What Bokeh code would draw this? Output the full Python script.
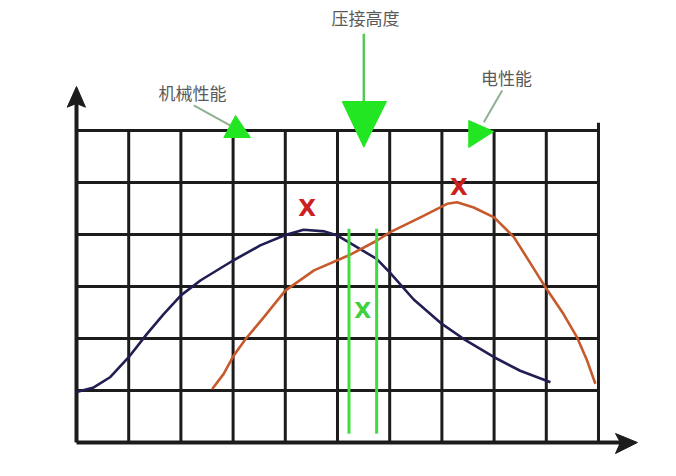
from bokeh.plotting import figure
from bokeh.models import Range1d
from bokeh.core.properties import value
from bokeh.embed import file_html
from bokeh.resources import INLINE

# ---------------- data ----------------
grid_cols = list(range(0, 11))   # vertical grid lines (x units)
grid_rows = list(range(1, 7))    # horizontal grid lines (y units)

mech_x = [0, 0.33, 0.65, 1.0, 1.35, 1.67, 2.0, 2.38, 3.0, 3.52, 4.0, 4.35, 4.75,
          5.0, 5.22, 5.75, 6.0, 6.46, 7.0, 7.42, 8.0, 8.5, 9.08]
mech_y = [0.97, 1.06, 1.26, 1.64, 2.09, 2.47, 2.83, 3.12, 3.5, 3.79, 3.99, 4.09, 4.06,
          3.98, 3.85, 3.53, 3.27, 2.75, 2.28, 1.99, 1.64, 1.38, 1.16]

elec_x = [2.6, 2.82, 3.01, 3.24, 3.59, 4.0, 4.55, 5.22, 5.75, 6.02, 6.59, 7.1, 7.29,
          7.61, 8.0, 8.38, 8.7, 9.0, 9.33, 9.59, 9.78, 9.94]
elec_y = [1.03, 1.32, 1.67, 1.99, 2.41, 2.92, 3.31, 3.6, 3.88, 4.05, 4.33, 4.59, 4.62,
          4.52, 4.33, 3.95, 3.44, 2.96, 2.47, 2.02, 1.58, 1.13]

window_x = [5.22, 5.75]          # crimp height window (green lines)
window_y = [0.17, 4.11]

labels = ["机械性能", "压接高度", "电性能"]
peak_marks = ["X", "X"]

# ---------------- figure ----------------
p = figure(width=660, height=460, output_backend="svg", toolbar_location=None,
           x_range=Range1d(-1.456, 11.188), y_range=Range1d(-0.346, 8.5),
           x_axis_type=None, y_axis_type=None, min_border=0)
p.outline_line_color = None
p.grid.visible = False
p.background_fill_color = "white"
p.border_fill_color = "white"

GRID = "#1c1c1c"
top_row = max(grid_rows)
right_col = max(grid_cols)

# vertical grid lines
vx = [c for c in grid_cols if c != 0]
vtop = [top_row + (0.15 if c == right_col else 0) for c in vx]
p.segment(x0=vx, y0=[0] * len(vx), x1=vx, y1=vtop, line_color=GRID, line_width=3)
# horizontal grid lines
p.segment(x0=[0] * len(grid_rows), y0=grid_rows, x1=[right_col] * len(grid_rows),
          y1=grid_rows, line_color=GRID, line_width=3)

# axes with arrowheads
p.segment(x0=[0, 0], y0=[0, 0], x1=[0, 10.45], y1=[6.55, 0], line_color=GRID, line_width=4)
p.patches(xs=[[0, -0.178, 0, 0.172], [10.747, 10.326, 10.42, 10.326]],
          ys=[[6.846, 6.448, 6.52, 6.448], [0, 0.173, 0, -0.212]],
          fill_color=GRID, line_color=GRID, line_width=1)

# curves
p.line(mech_x, mech_y, line_color="#201e52", line_width=2.6, line_join="round")
p.line(elec_x, elec_y, line_color="#c65a2c", line_width=2.6, line_join="round")

# crimp window
p.segment(x0=window_x, y0=[window_y[0]] * 2, x1=window_x, y1=[window_y[1]] * 2,
          line_color="#3fdc3f", line_width=3)
p.text(x=[sum(window_x) / 2], y=[2.54], text=["X"], text_color="#3fcf3f",
       text_font=value("DejaVu Sans"), text_font_size="22px", text_font_style="bold",
       text_align="center", text_baseline="middle")

# red peak marks
p.text(x=[4.418, 7.324], y=[4.513, 4.923], text=peak_marks, text_color="#cc2020",
       text_font=value("DejaVu Sans"), text_font_size="23px", text_font_style="bold",
       text_align="center", text_baseline="middle")

# annotation arrows
GREEN = "#22e622"
p.segment(x0=[5.504], y0=[7.86], x1=[5.504], y1=[6.56], line_color="#55c855", line_width=2.5)
p.segment(x0=[2.247, 8.155], y0=[6.481, 6.769], x1=[2.95, 7.803], y1=[6.096, 6.16],
          line_color="#8fb08f", line_width=2)
p.patches(xs=[[5.09, 5.939, 5.504], [3.046, 2.822, 3.333], [7.515, 7.994, 7.515]],
          ys=[[6.558, 6.558, 5.679], [6.288, 5.865, 5.865], [6.192, 5.981, 5.673]],
          fill_color=GREEN, line_color=GREEN, line_width=1)

# labels
p.text(x=[2.222, 5.536, 8.238], y=[6.74, 8.173, 7.019], text=labels,
       text_color="#5a5a5a", text_font=value("Noto Sans CJK SC"), text_font_size="17px",
       text_align="center", text_baseline="middle")

open("out.html", "w").write(file_html(p, INLINE))
